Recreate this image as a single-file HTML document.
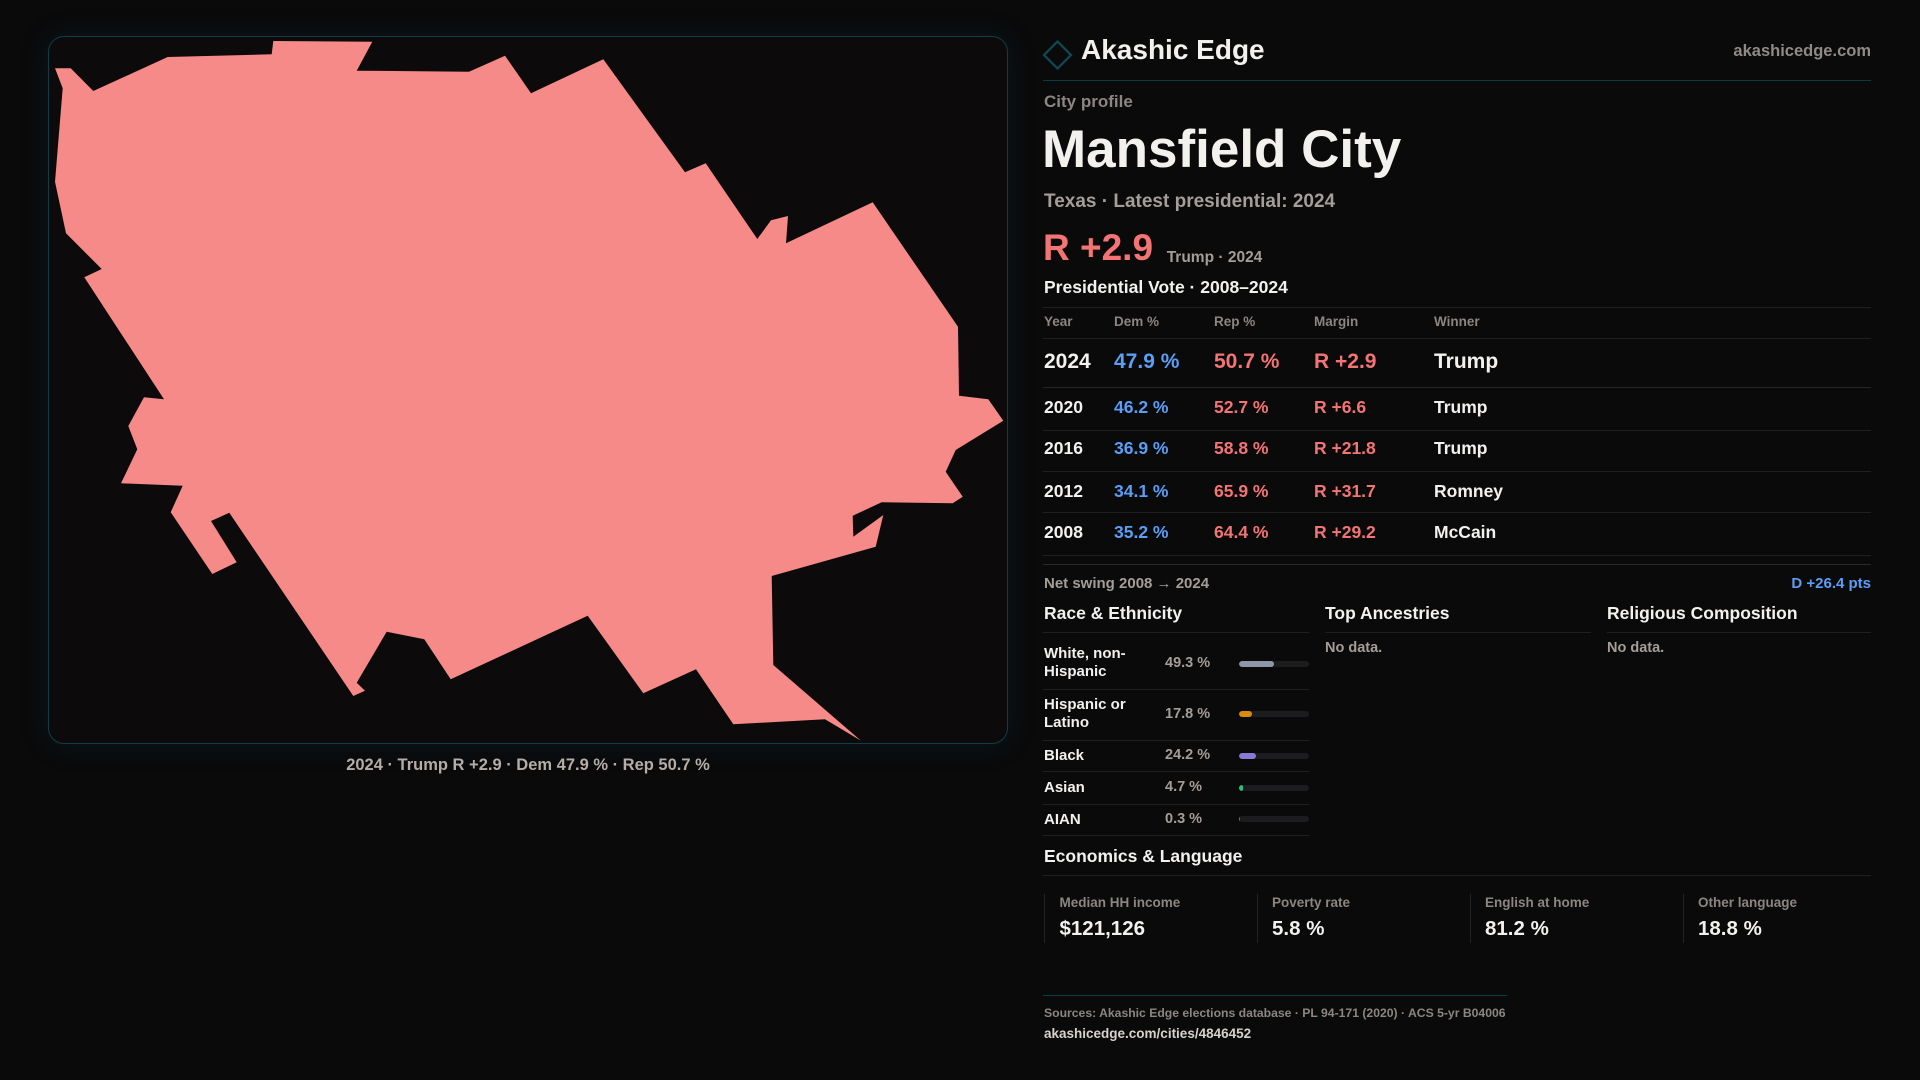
<!DOCTYPE html>
<html>
<head>
<meta charset="utf-8">
<style>
  html,body{margin:0;padding:0;}
  body{width:1920px;height:1080px;background:#0a0a0b;position:relative;overflow:hidden;font-family:"Liberation Sans",sans-serif;}
  .t{position:absolute;line-height:1;white-space:nowrap;font-weight:700;font-family:"Liberation Sans",sans-serif;}
  .w{color:#f3f1ee;}
  .g{color:#a59d97;}
  .h{color:#8c8581;}
  .b{color:#5a9ef5;}
  .r{color:#f47474;}
  .hl{position:absolute;height:1px;background:#1f1f20;}
  .panel{position:absolute;left:48px;top:36px;width:958px;height:706px;border:1px solid #0f3e48;border-radius:16px;background:#0c0a0b;box-shadow:0 0 28px rgba(14,70,85,0.22);}
  .track{position:absolute;left:1239px;width:70px;height:6px;border-radius:3px;background:#1c1c1e;overflow:hidden;}
  .fill{position:absolute;left:0;top:0;height:6px;border-radius:3px;}
  .vl{position:absolute;width:1px;top:894px;height:49px;background:#232324;}
</style>
</head>
<body>

<div class="panel"></div>
<svg width="1920" height="1080" style="position:absolute;left:0;top:0;" xmlns="http://www.w3.org/2000/svg">
  <polygon fill="#f68a88" points="55,68.3 70.7,68.3 93.3,91 167.7,57 271.7,54.3 273.3,41 372.3,41.7 356.7,70.7 469,71.7 505,55.7 531,93.3 603.3,59.3 685,172.3 705.7,163.3 757.3,239 771,220.3 788,216 786,243.3 872.7,202.3 958,326.7 959,395.7 988.3,399.3 1003.3,420.7 955.7,450 945.7,471.7 962.7,496.7 952.7,503.3 881.7,502.3 852.7,515.7 853.3,536.7 883.3,515 875.7,546.7 771.7,576 773.3,665 861,740.7 825,719.3 733.3,724.3 696,669.3 643.3,693.3 587.7,615.7 450.7,679.3 424.3,639.3 386.7,631.7 356.7,682.7 365,690.7 353.3,696 229.3,512.7 211,521 236.7,562.3 212.3,574 170.7,512.3 182.7,485.7 121,483.3 137.3,449.3 128.3,426 144,397.3 164,399.3 84.3,277.3 101.7,269 66,233.3 55,181.7 62.7,88.3"/>
  <polygon points="1057.5,41.5 1071,55 1057.5,68.5 1044,55" fill="none" stroke="#0e4a55" stroke-width="2.2"/>
</svg>

<div class="t" style="left:48px;width:960px;text-align:center;top:756.75px;font-size:16.5px;color:#b5ada7;">2024 · Trump R +2.9 · Dem 47.9 % · Rep 50.7 %</div>

<!-- Header -->
<div class="t w" style="left:1081px;top:36.3px;font-size:28px;">Akashic Edge</div>
<div class="t" style="right:49px;top:42.7px;font-size:16.5px;color:#8f8a87;">akashicedge.com</div>
<div class="hl" style="left:1043px;width:828px;top:80px;background:#0d3b44;"></div>

<div class="t h" style="left:1044px;top:92.9px;font-size:17px;">City profile</div>
<div class="t w" style="left:1042px;top:123.1px;font-size:53px;">Mansfield City</div>
<div class="t g" style="left:1044px;top:192.2px;font-size:19px;">Texas · Latest presidential: 2024</div>
<div class="t r" style="left:1043px;top:228.7px;font-size:37px;">R +2.9</div>
<div class="t g" style="left:1166.7px;top:250.2px;font-size:15.5px;">Trump · 2024</div>
<div class="t w" style="left:1044px;top:279.2px;font-size:17.5px;">Presidential Vote · 2008–2024</div>
<div class="hl" style="left:1043px;width:828px;top:307px;"></div>

<!-- Table header -->
<div class="t h" style="left:1044px;top:315.25px;font-size:13.5px;">Year</div>
<div class="t h" style="left:1114px;top:315.25px;font-size:13.5px;">Dem %</div>
<div class="t h" style="left:1214px;top:315.25px;font-size:13.5px;">Rep %</div>
<div class="t h" style="left:1314px;top:315.25px;font-size:13.5px;">Margin</div>
<div class="t h" style="left:1434px;top:315.25px;font-size:13.5px;">Winner</div>
<div class="hl" style="left:1043px;width:828px;top:338px;"></div>

<!-- 2024 -->
<div class="t w" style="left:1044px;top:351px;font-size:21px;">2024</div>
<div class="t b" style="left:1114px;top:351px;font-size:21px;">47.9 %</div>
<div class="t r" style="left:1214px;top:351px;font-size:21px;">50.7 %</div>
<div class="t r" style="left:1314px;top:351px;font-size:21px;">R +2.9</div>
<div class="t w" style="left:1434px;top:351px;font-size:21px;">Trump</div>
<div class="hl" style="left:1043px;width:828px;top:387px;background:#262627;"></div>

<!-- 2020 -->
<div class="t w" style="left:1044px;top:399.3px;font-size:17.5px;">2020</div>
<div class="t b" style="left:1114px;top:399.3px;font-size:17.5px;">46.2 %</div>
<div class="t r" style="left:1214px;top:399.3px;font-size:17.5px;">52.7 %</div>
<div class="t r" style="left:1314px;top:399.3px;font-size:17.5px;">R +6.6</div>
<div class="t w" style="left:1434px;top:399.3px;font-size:17.5px;">Trump</div>
<div class="hl" style="left:1043px;width:828px;top:430px;"></div>

<!-- 2016 -->
<div class="t w" style="left:1044px;top:440.3px;font-size:17.5px;">2016</div>
<div class="t b" style="left:1114px;top:440.3px;font-size:17.5px;">36.9 %</div>
<div class="t r" style="left:1214px;top:440.3px;font-size:17.5px;">58.8 %</div>
<div class="t r" style="left:1314px;top:440.3px;font-size:17.5px;">R +21.8</div>
<div class="t w" style="left:1434px;top:440.3px;font-size:17.5px;">Trump</div>
<div class="hl" style="left:1043px;width:828px;top:471px;"></div>

<!-- 2012 -->
<div class="t w" style="left:1044px;top:483.3px;font-size:17.5px;">2012</div>
<div class="t b" style="left:1114px;top:483.3px;font-size:17.5px;">34.1 %</div>
<div class="t r" style="left:1214px;top:483.3px;font-size:17.5px;">65.9 %</div>
<div class="t r" style="left:1314px;top:483.3px;font-size:17.5px;">R +31.7</div>
<div class="t w" style="left:1434px;top:483.3px;font-size:17.5px;">Romney</div>
<div class="hl" style="left:1043px;width:828px;top:512px;"></div>

<!-- 2008 -->
<div class="t w" style="left:1044px;top:524.3px;font-size:17.5px;">2008</div>
<div class="t b" style="left:1114px;top:524.3px;font-size:17.5px;">35.2 %</div>
<div class="t r" style="left:1214px;top:524.3px;font-size:17.5px;">64.4 %</div>
<div class="t r" style="left:1314px;top:524.3px;font-size:17.5px;">R +29.2</div>
<div class="t w" style="left:1434px;top:524.3px;font-size:17.5px;">McCain</div>
<div class="hl" style="left:1043px;width:828px;top:555px;"></div>
<div class="hl" style="left:1043px;width:828px;top:564px;background:#2a2a2b;"></div>

<div class="t g" style="left:1044px;top:575.5px;font-size:15px;">Net swing 2008 → 2024</div>
<div class="t b" style="right:49px;top:575.5px;font-size:15px;">D +26.4 pts</div>

<!-- Section headings -->
<div class="t w" style="left:1044px;top:605.3px;font-size:17.5px;">Race &amp; Ethnicity</div>
<div class="t w" style="left:1325px;top:605.3px;font-size:17.5px;">Top Ancestries</div>
<div class="t w" style="left:1607px;top:605.3px;font-size:17.5px;">Religious Composition</div>
<div class="hl" style="left:1043px;width:266px;top:632px;"></div>
<div class="hl" style="left:1325px;width:266px;top:632px;"></div>
<div class="hl" style="left:1607px;width:264px;top:632px;"></div>
<div class="t g" style="left:1325px;top:640.8px;font-size:14.5px;">No data.</div>
<div class="t g" style="left:1607px;top:640.8px;font-size:14.5px;">No data.</div>

<!-- Race rows -->
<div class="t w" style="left:1044px;top:645.2px;font-size:15px;line-height:18px;">White, non-<br>Hispanic</div>
<div class="t g" style="left:1165px;top:655.75px;font-size:14.5px;">49.3 %</div>
<div class="track" style="top:660.7px;"><div class="fill" style="width:35px;background:#8d97a8;"></div></div>
<div class="hl" style="left:1043px;width:266px;top:689px;"></div>

<div class="t w" style="left:1044px;top:696.2px;font-size:15px;line-height:18px;">Hispanic or<br>Latino</div>
<div class="t g" style="left:1165px;top:706.75px;font-size:14.5px;">17.8 %</div>
<div class="track" style="top:711px;"><div class="fill" style="width:13px;background:#d98b0f;"></div></div>
<div class="hl" style="left:1043px;width:266px;top:740px;"></div>

<div class="t w" style="left:1044px;top:748.2px;font-size:15px;">Black</div>
<div class="t g" style="left:1165px;top:748.45px;font-size:14.5px;">24.2 %</div>
<div class="track" style="top:752.7px;"><div class="fill" style="width:17px;background:#8b79d6;"></div></div>
<div class="hl" style="left:1043px;width:266px;top:771px;"></div>

<div class="t w" style="left:1044px;top:780.2px;font-size:15px;">Asian</div>
<div class="t g" style="left:1165px;top:780.45px;font-size:14.5px;">4.7 %</div>
<div class="track" style="top:784.7px;"><div class="fill" style="width:4px;background:#2bbf83;"></div></div>
<div class="hl" style="left:1043px;width:266px;top:804px;"></div>

<div class="t w" style="left:1044px;top:811.5px;font-size:15px;">AIAN</div>
<div class="t g" style="left:1165px;top:811.75px;font-size:14.5px;">0.3 %</div>
<div class="track" style="top:816px;"><div class="fill" style="width:1px;border-radius:0;background:#b8601a;"></div></div>
<div class="hl" style="left:1043px;width:266px;top:835px;"></div>

<!-- Economics -->
<div class="t w" style="left:1044px;top:848px;font-size:17.5px;">Economics &amp; Language</div>
<div class="hl" style="left:1043px;width:828px;top:875px;"></div>

<div class="vl" style="left:1044px;"></div>
<div class="vl" style="left:1257px;"></div>
<div class="vl" style="left:1470px;"></div>
<div class="vl" style="left:1683px;"></div>

<div class="t h" style="left:1059.5px;top:895.5px;font-size:13.5px;">Median HH income</div>
<div class="t h" style="left:1272px;top:895.5px;font-size:13.5px;">Poverty rate</div>
<div class="t h" style="left:1485px;top:895.5px;font-size:13.5px;">English at home</div>
<div class="t h" style="left:1698px;top:895.5px;font-size:13.5px;">Other language</div>

<div class="t w" style="left:1059.5px;top:919px;font-size:20.5px;">$121,126</div>
<div class="t w" style="left:1272px;top:919px;font-size:20.5px;">5.8 %</div>
<div class="t w" style="left:1485px;top:919px;font-size:20.5px;">81.2 %</div>
<div class="t w" style="left:1698px;top:919px;font-size:20.5px;">18.8 %</div>

<!-- Footer -->
<div class="hl" style="left:1043px;width:464px;top:995px;background:#0d3b44;"></div>
<div class="t h" style="left:1044px;top:1007.2px;font-size:12.2px;">Sources: Akashic Edge elections database · PL 94-171 (2020) · ACS 5-yr B04006</div>
<div class="t" style="left:1044px;top:1027.25px;font-size:13.5px;color:#d8d2cc;">akashicedge.com/cities/4846452</div>

</body>
</html>
